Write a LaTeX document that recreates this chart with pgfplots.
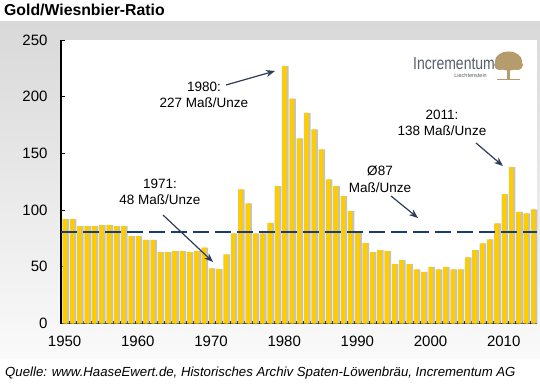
\documentclass[border=0pt]{standalone}
\usepackage{pgfplots}
\pgfplotsset{compat=1.18}
\usepackage{pgfplotstable}
\usepackage{fontspec}
\setmainfont{Liberation Sans}
\usetikzlibrary{arrows.meta}
\definecolor{baryellow}{HTML}{FFCC00}
\definecolor{navyline}{HTML}{1B3C6E}
\definecolor{arrowc}{HTML}{2E3D55}
\definecolor{logoc}{HTML}{56606C}
\definecolor{treec}{HTML}{B49C6C}

\pgfplotstableread{
year ratio
1950 92.1
1951 92.1
1952 85.9
1953 85.9
1954 85.9
1955 86.8
1956 86.8
1957 85.9
1958 85.9
1959 77.1
1960 77.1
1961 73.8
1962 73.8
1963 63.0
1964 63.0
1965 63.9
1966 63.9
1967 63.0
1968 63.9
1969 67.0
1970 48.6
1971 48.0
1972 61.0
1973 79.5
1974 118.2
1975 105.9
1976 79.5
1977 79.5
1978 88.8
1979 121.1
1980 227.0
1981 198.4
1982 163.2
1983 185.7
1984 171.1
1985 153.5
1986 127.0
1987 121.1
1988 112.3
1989 99.1
1990 80.0
1991 70.9
1992 63.0
1993 64.8
1994 63.9
1995 52.4
1996 55.9
1997 52.4
1998 47.8
1999 45.6
2000 50.0
2001 47.8
2002 50.0
2003 47.8
2004 47.8
2005 58.3
2006 64.8
2007 70.7
2008 74.2
2009 88.3
2010 114.1
2011 138.0
2012 98.5
2013 97.1
2014 100.6
}\golddata

\begin{document}
\begin{tikzpicture}[x=1pt,y=1pt]
\path[use as bounding box] (0,0) rectangle (540,383);
\shade[top color=black!15, bottom color=black!2] (0,361) rectangle (540,25);

\begin{axis}[
  at={(61pt,59.5pt)}, anchor=south west, scale only axis,
  width=476pt, height=283.5pt,
  xmin=1949.5, xmax=2014.55, ymin=0, ymax=250,
  axis background/.style={fill=white},
  axis x line*=bottom, axis y line*=left,
  axis line style={black, line width=1.2pt, -},
  ytick={0,50,...,250},
  xtick={1950,1960,...,2010},
  minor xtick={1949.62,1950.62,...,2014.62},
  major x tick style={draw=none},
  minor x tick style={black, line width=0.8pt},
  ytick style={black, line width=0.8pt},
  tick align=inside, major tick length=4pt, minor tick length=3pt,
  /pgf/number format/assume math mode=true,
  /pgf/number format/1000 sep={},
  ticklabel style={font=\fontsize{15}{18}\selectfont},
  xticklabel style={yshift=-9pt},
  yticklabel style={xshift=-10pt},
  clip=false,
]
\addplot[ybar, bar width=4.4pt, bar shift=2.2pt, fill=black!28, draw=none, opacity=0.85] table[x=year,y=ratio] {\golddata};
\addplot[ybar, bar width=4.4pt, bar shift=0pt, fill=baryellow, draw=none] table[x=year,y=ratio] {\golddata};
\addplot[navyline, line width=2pt, dash pattern=on 16pt off 6pt] coordinates {(1949.5,80.5) (2014.55,80.5)};
\end{axis}

% title and footer
\node[anchor=base west, inner sep=0pt] at (4,367) {\fontsize{15.8}{18}\selectfont\bfseries Gold/Wiesnbier-Ratio};
\node[anchor=base west, inner sep=0pt] at (5,7) {\fontsize{13.2}{15}\selectfont\itshape Quelle: www.HaaseEwert.de, Historisches Archiv Spaten-Löwenbräu, Incrementum AG};

% annotations
\begin{scope}[every node/.style={inner sep=0pt, font=\fontsize{13.5}{16}\selectfont}]
\node at (204,296) {1980:};
\node at (204,280) {227 Maß/Unze};
\node at (160,199) {1971:};
\node at (160,183) {48 Maß/Unze};
\node at (442,268) {2011:};
\node at (442,252) {138 Maß/Unze};
\node at (380,212) {Ø87};
\node at (380,195) {Maß/Unze};
\end{scope}
\begin{scope}[arrowc, line width=1.2pt, -{Stealth[length=9pt,width=7pt]}]
\draw (226,298) -- (275,312);
\draw (163,168) -- (213,121);
\draw (476,240) -- (503,217);
\draw (391,187) -- (418,165);
\end{scope}

% logo
\node[anchor=base west, inner sep=0pt, text=logoc] at (413,313) {\scalebox{1}[1.25]{\fontsize{14}{14}\selectfont Incrementum}};
\node[anchor=base east, inner sep=0pt, text=logoc] at (487,305) {\fontsize{5.5}{6}\selectfont Liechtenstein};
\fill[treec] (508.5,322) ellipse (13.5 and 9.5);
\fill[treec] (500,318) ellipse (6 and 5);
\fill[treec] (517,318) ellipse (6 and 5);
\fill[treec] (507,303) rectangle (510,316);
\fill[treec] (497,302.5) rectangle (520,304);
\end{tikzpicture}
\end{document}
